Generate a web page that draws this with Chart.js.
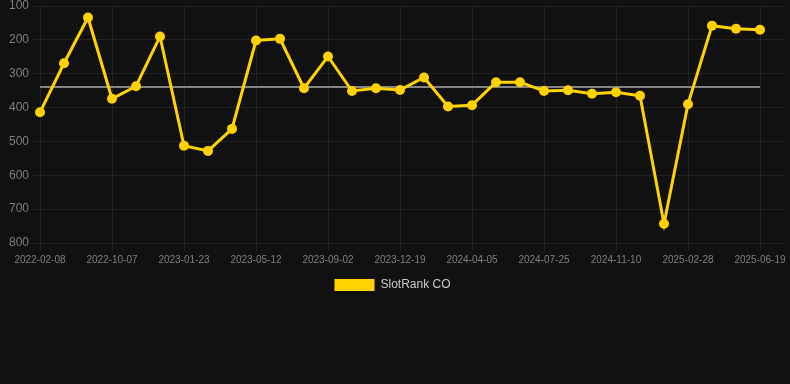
<!DOCTYPE html>
<html>
<head>
<meta charset="utf-8">
<script src="https://cdn.jsdelivr.net/npm/chart.js@4.4.1/dist/chart.umd.min.js"></script>
<style>
	html, body { margin: 0; padding: 0; background: #111111; }
	#wrap { position: relative; width: 790px; height: 301px; }
</style>
</head>
<body>
<div id="wrap"><canvas id="rankChart"></canvas></div>
<script>
// =================== DATA ===================
const dates = [
	"2022-02-08", "2022-05-01", "2022-07-20", "2022-10-07", "2022-11-12", "2022-12-18",
	"2023-01-23", "2023-02-28", "2023-04-06", "2023-05-12", "2023-06-19", "2023-07-26",
	"2023-09-02", "2023-10-08", "2023-11-13", "2023-12-19", "2024-01-24", "2024-02-29",
	"2024-04-05", "2024-05-12", "2024-06-18", "2024-07-25", "2024-08-30", "2024-10-05",
	"2024-11-10", "2024-12-16", "2025-01-22", "2025-02-28", "2025-04-05", "2025-05-12",
	"2025-06-19",
];
const slotRankCO = [
	414, 269, 134, 374, 337, 190,
	513, 528, 463, 202, 197, 343,
	249, 351, 343, 348, 311, 397,
	393, 325, 325, 351, 349, 359,
	355, 365, 743, 390, 158, 167,
	170,
];
const averageRank = 339;
const rankTicks = [100, 200, 300, 400, 500, 600, 700, 800];

// =================== CHART ===================
const gridColor = "rgba(255, 255, 255, 0.07)";
const tickColor = "#7f7f7f";

new Chart(document.getElementById("rankChart").getContext("2d"), {
	type: "line",
	data: {
		labels: dates,
		datasets: [
			{
				label: "SlotRank CO",
				data: slotRankCO,
				borderColor: "#ffd200",
				backgroundColor: "#ffd200",
				borderWidth: 3,
				pointRadius: 5,
				pointBorderWidth: 0,
				tension: 0,
				order: 0,
			},
			{
				label: "Average",
				data: [
					{ x: dates[0], y: averageRank },
					{ x: dates[dates.length - 1], y: averageRank },
				],
				borderColor: "#858585",
				borderWidth: 2,
				pointRadius: 0,
				order: 1,
			},
		],
	},
	options: {
		responsive: true,
		maintainAspectRatio: false,
		animation: false,
		layout: { padding: { left: 0, right: 5 } },
		scales: {
			x: {
				grid: { color: gridColor, tickLength: 8 },
				border: { display: false },
				ticks: {
					color: tickColor,
					font: { size: 10 },
					maxRotation: 0,
					autoSkip: true,
					maxTicksLimit: 11,
				},
			},
			y: {
				reverse: true,
				min: rankTicks[0],
				max: rankTicks[rankTicks.length - 1],
				grid: { color: gridColor, tickLength: 8 },
				border: { display: false },
				afterBuildTicks: (axis) => {
					axis.ticks = rankTicks.map((v) => ({ value: v }));
				},
				afterFit: (axis) => {
					axis.width = 40;
				},
				ticks: { color: tickColor, font: { size: 12, lineHeight: 0.5 } },
			},
			y1: {
				position: "right",
				reverse: true,
				min: rankTicks[0],
				max: rankTicks[rankTicks.length - 1],
				border: { display: false },
				grid: { color: gridColor, drawOnChartArea: false, tickLength: 25 },
				afterBuildTicks: (axis) => {
					axis.ticks = rankTicks.map((v) => ({ value: v }));
				},
				ticks: { display: false },
			},
		},
		plugins: {
			tooltip: { enabled: false },
			legend: {
				position: "bottom",
				labels: {
					color: "#cccccc",
					font: { size: 12 },
					boxWidth: 40,
					boxHeight: 12,
					filter: (item) => item.datasetIndex === 0,
					generateLabels: (chart) =>
						Chart.defaults.plugins.legend.labels
							.generateLabels(chart)
							.map((item) => ({ ...item, lineWidth: 0 })),
				},
			},
		},
	},
});
</script>
</body>
</html>
